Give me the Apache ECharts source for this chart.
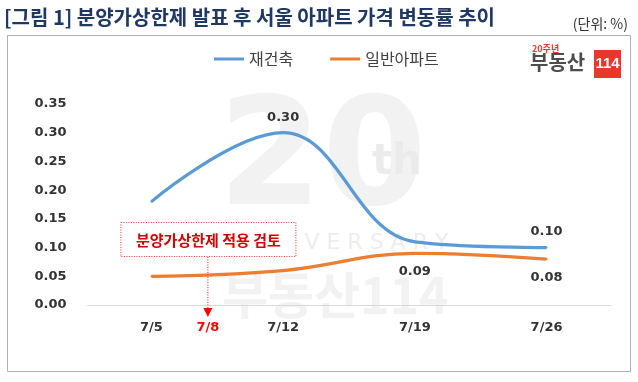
<!DOCTYPE html>
<html><head><meta charset="utf-8">
<script src="https://cdn.jsdelivr.net/npm/echarts@6/dist/echarts.min.js"></script>
<style>html,body{margin:0;padding:0;background:#fff}#c{width:638px;height:382px}</style>
</head><body><div id="c"></div>
<script>
// ---- data ----
var month = '7';
var days = [5, 12, 19, 26];                 // observation dates (July)
var tickDays = [5, 8, 12, 19, 26];          // x-axis tick labels
var markDay = 8;                            // 분양가상한제 적용 검토
var rebuildVals = [0.18, 0.30, 0.11, 0.10]; // 재건축
var generalVals = [0.05, 0.06, 0.09, 0.08]; // 일반아파트
var rebuildLabelIdx = [1, 3];
var generalLabelIdx = [2, 3];
var yTicks = [0, 0.05, 0.10, 0.15, 0.20, 0.25, 0.30, 0.35];
var seriesNames = ['재건축', '일반아파트'];
var titleText = '[그림 1] 분양가상한제 발표 후 서울 아파트 가격 변동률 추이';
var unitText = '(단위: %)';
var noteText = '분양가상한제 적용 검토';

var NUMF = 'DejaVu Sans';
var KRF = '"Noto Sans CJK KR", sans-serif';

function build(vals, idx) {
  return vals.map(function (v, i) {
    return { value: [days[i], v], label: { show: idx.indexOf(i) >= 0 } };
  });
}

var chart = echarts.init(document.getElementById('c'), null, { renderer: 'canvas' });
var option = {
  backgroundColor: '#fff',
  animation: false,
  grid: { left: 87.5, right: 27.5, top: 104, bottom: 77 },
  legend: {
    left: 214, top: 51, padding: 0,
    itemWidth: 30, itemHeight: 3, itemGap: 37,
    icon: 'rect',
    textStyle: { fontFamily: KRF, fontSize: 16, color: '#404040' },
    data: seriesNames
  },
  xAxis: {
    type: 'value', min: 1.6, max: 29.4,
    splitLine: { show: false },
    axisTick: { show: false },
    axisLine: { lineStyle: { color: '#d9d9d9', width: 1 } },
    axisLabel: {
      customValues: tickDays,
      margin: 16,
      fontFamily: NUMF, fontWeight: 'bold', fontSize: 13, color: '#333',
      formatter: function (v) {
        return v === markDay ? '{r|' + month + '/' + v + '}' : month + '/' + v;
      },
      rich: { r: { color: '#ff0000', fontFamily: NUMF, fontWeight: 'bold', fontSize: 13 } }
    }
  },
  yAxis: {
    type: 'value', min: yTicks[0], max: yTicks[yTicks.length - 1], interval: 0.05,
    splitLine: { show: false },
    axisLine: { show: false },
    axisTick: { show: false },
    axisLabel: {
      margin: 21, fontFamily: NUMF, fontWeight: 'bold', fontSize: 13, color: '#333',
      formatter: function (v) { return v.toFixed(2); }
    }
  },
  series: [
    {
      name: seriesNames[0], type: 'line', smooth: 0.4,
      data: build(rebuildVals, rebuildLabelIdx),
      symbol: 'circle', symbolSize: 2,
      lineStyle: { color: '#5b9bd5', width: 3.2 },
      itemStyle: { color: '#5b9bd5' },
      label: {
        position: 'top', distance: 8,
        fontFamily: NUMF, fontWeight: 'bold', fontSize: 13, color: '#333',
        formatter: function (p) { return p.value[1].toFixed(2); }
      },
      z: 3
    },
    {
      name: seriesNames[1], type: 'line', smooth: 0.4,
      data: build(generalVals, generalLabelIdx),
      symbol: 'circle', symbolSize: 2,
      lineStyle: { color: '#ed7d31', width: 3.2 },
      itemStyle: { color: '#ed7d31' },
      label: {
        position: 'bottom', distance: 11,
        fontFamily: NUMF, fontWeight: 'bold', fontSize: 13, color: '#333',
        formatter: function (p) { return p.value[1].toFixed(2); }
      },
      z: 2
    }
  ]
};
chart.setOption(option);

var markPx = chart.convertToPixel({ gridIndex: 0 }, [markDay, 0]);
var mx = markPx[0], baseY = markPx[1];
var wm = '#f2f2f2';
chart.setOption({
  graphic: [
    // watermark
    { type: 'text', left: 218, top: 90, z: -10, silent: true,
      style: { text: '20', fontFamily: NUMF, fontWeight: 'bold', fontSize: 150, fill: wm } },
    { type: 'text', left: 372, top: 142, z: -9, silent: true,
      style: { text: 'th', fontFamily: NUMF, fontWeight: 'bold', fontSize: 42, fill: '#ebebeb' } },
    { type: 'text', left: 222, top: 232, z: -9, silent: true,
      style: { text: 'A N N I V E R S A R Y', fontFamily: NUMF, fontSize: 22, fill: '#ededed' } },
    { type: 'text', left: 222, top: 270, z: -9, silent: true,
      style: { text: '부동산114', fontFamily: KRF, fontWeight: 'bold', fontSize: 50, fill: wm } },
    // frame
    { type: 'rect', shape: { x: 7.5, y: 35.5, width: 623, height: 336 }, z: -20, silent: true,
      style: { fill: '#fff', stroke: '#b0b0b0', lineWidth: 1 } },
    // title
    { type: 'text', left: 4, top: 7, style: { text: titleText, fontFamily: KRF, fontWeight: 'bold', fontSize: 20, fill: '#1f3864' } },
    { type: 'text', right: 10, top: 17, style: { text: unitText, fontFamily: KRF, fontSize: 14, fill: '#333' } },
    // logo
    { type: 'text', left: 532, top: 44, style: { text: '20주년', fontFamily: KRF, fontWeight: 'bold', fontSize: 9, fill: '#e8382b' } },
    { type: 'text', left: 530, top: 52, style: { text: '부동산', fontFamily: KRF, fontWeight: 'bold', fontSize: 20, fill: '#4d4d4d' } },
    { type: 'rect', shape: { x: 594, y: 50, width: 27, height: 28 }, style: { fill: '#e8382b' } },
    { type: 'text', x: 607.5, y: 64, style: { text: '114', fontFamily: 'Liberation Sans Narrow, Liberation Sans', fontWeight: 'bold', fontSize: 15, fill: '#fff', align: 'center', verticalAlign: 'middle' } },
    // annotation
    { type: 'rect', shape: { x: mx - 87, y: 222.5, width: 175, height: 34 },
      style: { fill: '#fff', stroke: '#ff3030', lineWidth: 1, lineDash: [1, 1.5] }, z: 10 },
    { type: 'text', x: mx + 0.5, y: 240, z: 11,
      style: { text: noteText, fontFamily: KRF, fontWeight: 'bold', fontSize: 15, fill: '#d40000', align: 'center', verticalAlign: 'middle' } },
    { type: 'line', shape: { x1: mx, y1: 257, x2: mx, y2: baseY + 4 }, z: 10,
      style: { stroke: '#ff2020', lineWidth: 1, lineDash: [1, 1.5] } },
    { type: 'polygon', shape: { points: [[mx - 4.5, baseY + 3], [mx + 4.5, baseY + 3], [mx, baseY + 12]] }, z: 10,
      style: { fill: '#ff0000' } }
  ]
});
</script>
</body></html>
